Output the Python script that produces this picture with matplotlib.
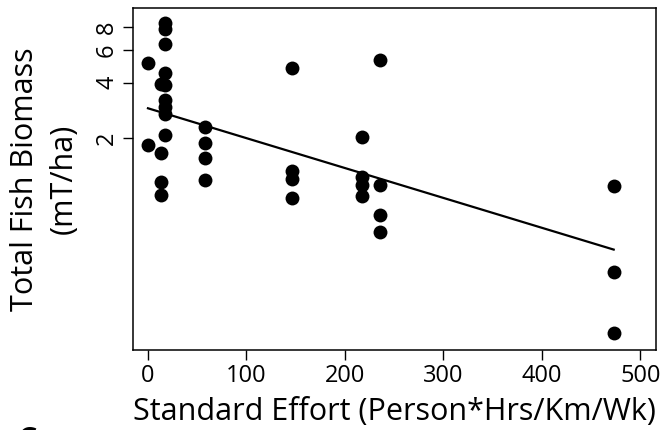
import matplotlib
matplotlib.use('Agg')
import matplotlib.pyplot as plt
from matplotlib.ticker import NullLocator

plt.rcParams['font.family'] = ['Open Sans', 'DejaVu Sans']

# effort (x) and biomass (y) for each site
effort = [0, 0,
          13, 13, 13, 13,
          17, 17, 17, 17, 17, 17, 17, 17, 17,
          58, 58, 58, 58,
          146, 146, 146, 146,
          217, 217, 217, 217,
          236, 236, 236, 236,
          473, 473, 473]
biomass = [5.1, 1.84,
           3.95, 1.66, 1.16, 0.99,
           8.4, 7.8, 6.45, 4.5, 3.9, 3.22, 2.97, 2.71, 2.08,
           2.31, 1.88, 1.57, 1.19,
           4.82, 1.33, 1.20, 0.95,
           2.04, 1.24, 1.12, 0.97,
           5.31, 1.12, 0.77, 0.62,
           1.11, 0.38, 0.176]

# fitted line end points
fit_x = [0, 473]
fit_y = [2.91, 0.50]

y_ticks = [2, 4, 6, 8]
x_ticks = [0, 100, 200, 300, 400, 500]

fig = plt.figure(figsize=(6.65, 4.30), dpi=100)
ax = fig.add_axes([0.2, 0.186, 0.7865, 0.7955])

ax.scatter(effort, biomass, s=100, color='black', zorder=3, linewidths=0)
ax.plot(fit_x, fit_y, color='black', linewidth=1.6, zorder=2)

ax.set_yscale('log')
ax.set_xlim(-15.2, 516)
ax.set_ylim(0.143, 10.16)
ax.set_yticks(y_ticks)
ax.set_yticklabels([str(t) for t in y_ticks], rotation=90, va='center')
ax.yaxis.set_minor_locator(NullLocator())
ax.set_xticks(x_ticks)

ax.tick_params(axis='both', direction='out', length=7, width=1, labelsize=17, pad=3)
for sp in ax.spines.values():
    sp.set_linewidth(1.1)

ax.set_xlabel('Standard Effort (Person*Hrs/Km/Wk)', fontsize=22, labelpad=6.5)
ax.set_ylabel('Total Fish Biomass\n(mT/ha)', fontsize=22, labelpad=12, linespacing=1.35)

fig.text(27 / 665, 1 - 426 / 430, 'C', fontsize=22, fontweight='bold', va='top', ha='center')

fig.savefig('out.png', dpi=100)
